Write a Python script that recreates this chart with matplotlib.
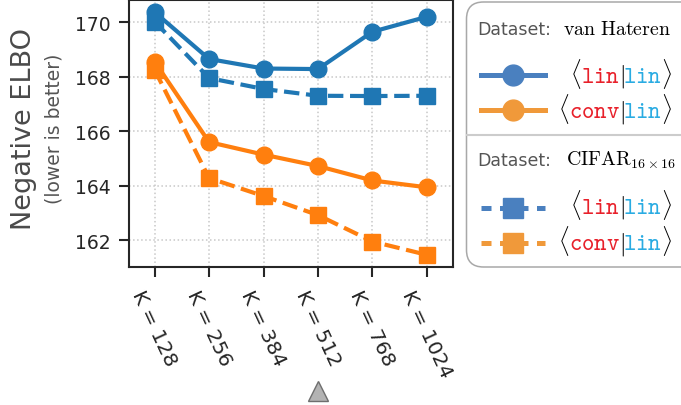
import matplotlib
matplotlib.use('Agg')
import matplotlib.pyplot as plt
import matplotlib.transforms as mtransforms
from matplotlib.lines import Line2D
from matplotlib.patches import FancyBboxPatch

plt.rcParams['mathtext.fontset'] = 'cm'
plt.rcParams['font.family'] = 'DejaVu Sans'

# data
k_values = [128, 256, 384, 512, 768, 1024]
tick_labels = [f"K = {k}" for k in k_values]
vh_lin_lin = [170.37, 168.65, 168.30, 168.28, 169.65, 170.20]
vh_conv_lin = [168.55, 165.60, 165.14, 164.72, 164.19, 163.94]
cifar_lin_lin = [170.02, 167.95, 167.55, 167.30, 167.29, 167.30]
cifar_conv_lin = [168.25, 164.28, 163.62, 162.92, 161.95, 161.46]
highlight_k = 512

BLUE = '#1f77b4'
ORANGE = '#ff7f0e'
LEG_BLUE = '#4a80bf'
LEG_ORANGE = '#f0993a'
RED_TT = '#e8202a'
CYAN_TT = '#29abe2'
DARK = '#262626'

W, H = 681, 406
fig = plt.figure(figsize=(W / 100, H / 100), dpi=100)
ax = fig.add_axes([128.5 / W, 1 - 268 / H, (453 - 128.5) / W, 267 / H])

x = list(range(len(k_values)))
ax.plot(x, cifar_lin_lin, ls='--', marker='s', color=BLUE, lw=3, ms=11)
ax.plot(x, cifar_conv_lin, ls='--', marker='s', color=ORANGE, lw=3, ms=11)
ax.plot(x, vh_lin_lin, ls='-', marker='o', color=BLUE, lw=3, ms=12)
ax.plot(x, vh_conv_lin, ls='-', marker='o', color=ORANGE, lw=3, ms=12)

ax.set_xlim(-0.48, 5.48)
ax.set_xticks(x)
ax.set_xticklabels(tick_labels, rotation=-65, fontsize=14.5, color=DARK)
ax.set_yticks([162, 164, 166, 168, 170])
ax.tick_params(axis='y', labelsize=13.5, labelcolor=DARK)
ax.tick_params(length=7, width=1.5, color=DARK, pad=6)
ax.tick_params(axis='x', pad=7)
ax.grid(True, ls=':', color='#c8c8c8', lw=1.1)
for s in ax.spines.values():
    s.set_color(DARK)
    s.set_linewidth(1.5)

# marker under the chosen K
blend = mtransforms.blended_transform_factory(ax.transData, ax.transAxes)
ax.plot([k_values.index(highlight_k)], [-0.464], marker='^', ms=14,
        mfc='#b3b3b3', mec='#6e6e6e', mew=1, transform=blend, clip_on=False)

# y label in two parts
fig.text(24 / W, 1 - 129.5 / H, 'Negative ELBO', rotation=90, ha='center',
         va='center', fontsize=19.5, color='#4a4a4a')
fig.text(54 / W, 1 - 128.5 / H, '(lower is better)', rotation=90, ha='center',
         va='center', fontsize=13.5, color='#555555')

# hand-built legend in image pixel coordinates (y down)
T = mtransforms.Affine2D().scale(1 / W, -1 / H).translate(0, 1) + fig.transFigure
box = FancyBboxPatch((466.5, 3), 300, 265, boxstyle='round,pad=0,rounding_size=17',
                     fc='white', ec='#a8a8a8', lw=1.1, transform=T, clip_on=False)
fig.add_artist(box)
fig.add_artist(Line2D([466.5, 700], [136, 136], color='#cccccc', lw=1.5, transform=T))

renderer = fig.canvas.get_renderer()


def header(y, name, x_name):
    fig.text(477 / W, 1 - y / H, 'Dataset:', fontsize=12.5, color='#555555',
             va='baseline', ha='left')
    fig.text(x_name / W, 1 - y / H, name, fontsize=14.3, color='black',
             va='baseline', ha='left')


def entry_label(y, first):
    pieces = [(r'$\rangle$', 'black'), (r'$\mathtt{lin}$', CYAN_TT),
              (r'$|$', 'black'), (r'$\mathtt{' + first + '}$', RED_TT),
              (r'$\langle$', 'black')]
    xr = 672
    for s, c in pieces:
        t = fig.text(xr / W, 1 - y / H, s, fontsize=17, color=c,
                     ha='right', va='baseline')
        xr -= t.get_window_extent(renderer).width - 1


def handle(y, color, marker, dashed):
    ln = Line2D([481, 545], [y, y], color=color, lw=3.6, transform=T)
    if dashed:
        ln.set_dashes([2.0, 1.7])
    fig.add_artist(ln)
    fig.add_artist(Line2D([513], [y], marker=marker, color=color, ms=15,
                          ls='none', transform=T))


header(35, r'$\mathrm{van\ Hateren}$', 563)
handle(76, LEG_BLUE, 'o', False)
entry_label(83, 'lin')
handle(111, LEG_ORANGE, 'o', False)
entry_label(118, 'conv')

header(166, r'$\mathrm{CIFAR}_{16\times16}$', 566)
handle(209, LEG_BLUE, 's', True)
entry_label(214, 'lin')
handle(244, LEG_ORANGE, 's', True)
entry_label(250, 'conv')

fig.savefig('out.png', dpi=100)
